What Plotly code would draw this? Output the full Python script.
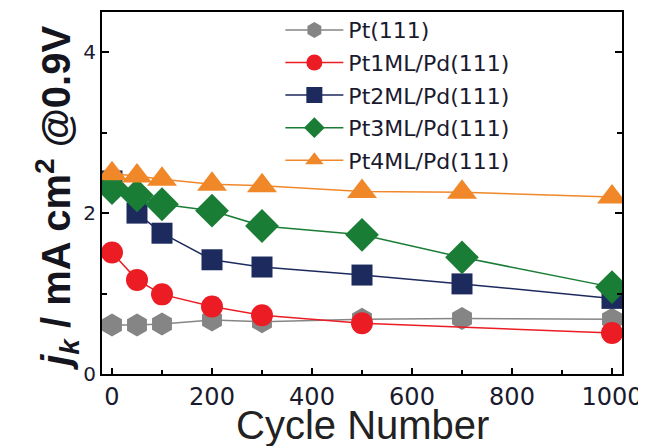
import plotly.graph_objects as go

cycles = [0, 50, 100, 200, 300, 500, 700, 1000]
cycles_pt1 = [0, 50, 100, 200, 300, 500, 1000]

pt111 = [0.61, 0.61, 0.62, 0.67, 0.65, 0.68, 0.69, 0.68]
pt1ml = [1.51, 1.17, 0.99, 0.84, 0.73, 0.63, 0.51]
pt2ml = [2.40, 2.00, 1.75, 1.42, 1.33, 1.23, 1.12, 0.94]
pt3ml = [2.31, 2.22, 2.11, 2.03, 1.84, 1.73, 1.45, 1.08]
pt4ml = [2.49, 2.46, 2.42, 2.36, 2.34, 2.27, 2.26, 2.20]

names = ["Pt(111)", "Pt1ML/Pd(111)", "Pt2ML/Pd(111)", "Pt3ML/Pd(111)", "Pt4ML/Pd(111)"]
xs = [cycles, cycles_pt1, cycles, cycles, cycles]
ys = [pt111, pt1ml, pt2ml, pt3ml, pt4ml]
colors = ["#858585", "#ec1c24", "#1d2a5e", "#1a7d36", "#f0882a"]
symbols = ["hexagon", "circle", "square", "diamond", "triangle-up"]
sizes = [23, 22, 21, 26, 26]

x_ticks = [0, 200, 400, 600, 800, 1000]
y_ticks = [0, 2, 4]

fig = go.Figure()
for n, x, y, c, s, sz in zip(names, xs, ys, colors, symbols, sizes):
    fig.add_trace(go.Scatter(
        x=x, y=y, name=n, mode="lines+markers", legendgroup=n,
        line=dict(color=c, width=1.5),
        marker=dict(symbol=s, size=sz, color=c, line=dict(width=0)),
    ))

text_color = "#1a1a2e"
fig.update_layout(
    width=638, height=438,
    margin=dict(l=94, r=24, t=4, b=72, autoexpand=False),
    paper_bgcolor="white", plot_bgcolor="white",
    showlegend=True,
    legend=dict(
        x=0.343, y=1.008, xanchor="left", yanchor="top",
        bgcolor="rgba(0,0,0,0)", borderwidth=0,
        font=dict(family="DejaVu Sans", size=22, color=text_color),
        itemwidth=58, tracegroupgap=1,
    ),
    xaxis=dict(
        range=[-20, 1020], tickvals=x_ticks, ticktext=[str(v) for v in x_ticks],
        showgrid=False, zeroline=False, automargin=False,
        showline=True, linecolor="black", linewidth=2, mirror=True,
        ticks="inside", ticklen=6, tickwidth=1.5, tickcolor="black",
        minor=dict(dtick=100, tick0=0, ticks="inside", ticklen=4, tickwidth=1.5, tickcolor="black"),
        tickfont=dict(family="DejaVu Sans", size=24, color=text_color),
        ticklabelstandoff=0,
    ),
    yaxis=dict(
        range=[0, 4.5], tickvals=y_ticks, ticktext=[str(v) for v in y_ticks],
        showgrid=False, zeroline=False, automargin=False,
        showline=True, linecolor="black", linewidth=2, mirror="ticks",
        ticks="inside", ticklen=7, tickwidth=1.5, tickcolor="black",
        minor=dict(dtick=1, tick0=0, ticks="inside", ticklen=5, tickwidth=1.5, tickcolor="black"),
        tickfont=dict(family="DejaVu Sans", size=20, color=text_color),
        ticklabelstandoff=0,
    ),
    annotations=[
        dict(
            text="<b><i>j</i><sub><i>k</i></sub> / mA cm<sup>2</sup> @0.9V</b>",
            xref="paper", yref="paper", x=-0.087, y=0.486,
            xanchor="center", yanchor="middle", textangle=-90, showarrow=False,
            font=dict(family="Liberation Sans", size=40, color="#151520"),
        ),
        dict(
            text="Cycle Number",
            xref="paper", yref="paper", x=0.5, y=-0.142,
            xanchor="center", yanchor="middle", showarrow=False,
            font=dict(family="Liberation Sans", size=40, color="#222222"),
        ),
    ],
)

fig.write_html("out.html")
